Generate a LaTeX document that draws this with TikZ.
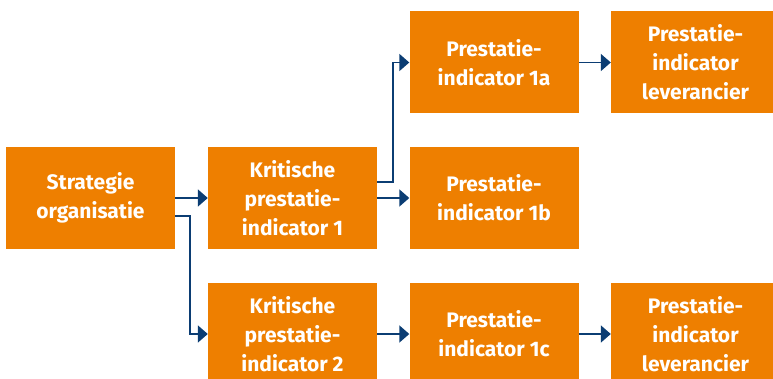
\documentclass[tikz,border=0pt]{standalone}
\usepackage{fontspec}
\setmainfont{Fira Sans}
\usetikzlibrary{arrows.meta}
\definecolor{boxorange}{HTML}{EE7F00}
\definecolor{linkblue}{HTML}{0B3D73}
\tikzset{
  box/.style={fill=boxorange, minimum width=169pt, minimum height=102pt, inner sep=0pt,
    text=white, align=center, font=\bfseries\fontsize{21}{29}\selectfont},
  link/.style={draw=linkblue, line width=1.8pt, -{Triangle[length=10pt,width=17pt]}}
}
\begin{document}
\begin{tikzpicture}[x=1pt,y=-1pt]
\useasboundingbox (0,0) rectangle (773,379);
\clip (0,0) rectangle (773,379);
\node[box] (S) at (90.5,198) {Strategie\\organisatie};
\node[box] (K1) at (292.5,198) {Kritische\\prestatie-\\indicator 1};
\node[box] (A) at (494,62.5) {Prestatie-\\indicator 1a};
\node[box] (L1) at (695.5,62.5) {Prestatie-\\indicator\\leverancier};
\node[box] (B) at (494,198) {Prestatie-\\indicator 1b};
\node[box] (K2) at (292.5,334) {Kritische\\prestatie-\\indicator 2};
\node[box] (C) at (494,334) {Prestatie-\\indicator 1c};
\node[box] (L2) at (695.5,334) {Prestatie-\\indicator\\leverancier};
\draw[link] (S.east) -- (K1.west);
\draw[link] ([yshift=-18pt]S.east) -- ++(15,0) |- (K2.west);
\draw[link] ([yshift=16pt]K1.east) -- ++(16,0) |- (A.west);
\draw[link] (K1.east) -- (B.west);
\draw[link] (A.east) -- (L1.west);
\draw[link] (K2.east) -- (C.west);
\draw[link] (C.east) -- (L2.west);
\end{tikzpicture}
\end{document}
